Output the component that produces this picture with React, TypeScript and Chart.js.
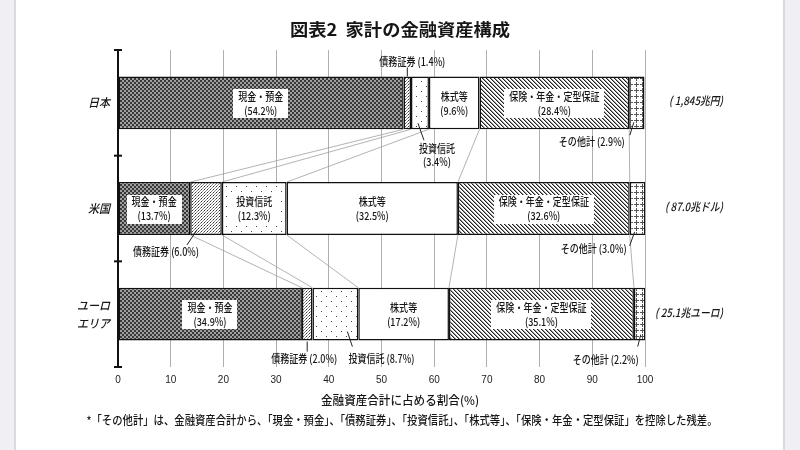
import React, { useEffect, useRef } from "react";
import { Chart, registerables } from "chart.js";

Chart.register(...registerables);

// ---------------- data ----------------
const categories = ["日本", "米国", "ユーロエリア"];
const categoryLines = [["日本"], ["米国"], ["ユーロ", "エリア"]];
const seriesNames = ["現金・預金", "債務証券", "投資信託", "株式等", "保険・年金・定型保証", "その他計"];
const cashDeposits = [54.2, 13.7, 34.9];
const debtSecurities = [1.4, 6.0, 2.0];
const investmentTrusts = [3.4, 12.3, 8.7];
const equities = [9.6, 32.5, 17.2];
const insurancePension = [28.4, 32.6, 35.1];
const otherTotal = [2.9, 3.0, 2.2];
const totalAssets = ["( 1,845兆円)", "( 87.0兆ドル)", "( 25.1兆ユーロ)"];
const xTickValues = [0, 10, 20, 30, 40, 50, 60, 70, 80, 90, 100];

const titleText = "図表2  家計の金融資産構成";
const xAxisTitle = "金融資産合計に占める割合(%)";
const footnote =
  "*「その他計」は、金融資産合計から、「現金・預金」、「債務証券」、「投資信託」、「株式等」、「保険・年金・定型保証」を控除した残差。";

// which segments carry their label inside the bar [dataset][category]
const insideLabel = [
  [true, true, true],
  [false, false, false],
  [false, true, false],
  [true, true, true],
  [true, true, true],
  [false, false, false],
];
// which inside labels get a white backing box
const boxedLabel = [
  [true, true, true],
  [false, false, false],
  [false, true, false],
  [false, false, false],
  [true, true, true],
  [false, false, false],
];

// outside labels: placement offsets relative to segment centre and bar edge
type Outside = {
  ds: number;
  cat: number;
  edge: "top" | "bottom";
  twoLine: boolean;
  dx: number;
  dy: number;
  l: [number, number, number, number];
};
const outsideLabels: Outside[] = [
  { ds: 1, cat: 0, edge: "top", twoLine: false, dx: 5, dy: -15, l: [0, -9, 0, 0] },
  { ds: 2, cat: 0, edge: "bottom", twoLine: true, dx: 17, dy: 33, l: [-2, -6, 4, 11] },
  { ds: 5, cat: 0, edge: "bottom", twoLine: false, dx: -45, dy: 13, l: [-3, -7, -7, 6] },
  { ds: 1, cat: 1, edge: "bottom", twoLine: false, dx: -40, dy: 17, l: [-9, -5, -19, 10] },
  { ds: 5, cat: 1, edge: "bottom", twoLine: false, dx: -44, dy: 14, l: [-3, -3, -8, 11] },
  { ds: 1, cat: 2, edge: "bottom", twoLine: false, dx: -3, dy: 18, l: [0, 1, 0, 11] },
  { ds: 2, cat: 2, edge: "bottom", twoLine: false, dx: 46, dy: 18, l: [12, -9, 17, 6] },
  { ds: 5, cat: 2, edge: "bottom", twoLine: false, dx: -34, dy: 19, l: [1, -6, -2, 6] },
];

const seriesData = [cashDeposits, debtSecurities, investmentTrusts, equities, insurancePension, otherTotal];

// ---------------- patterns ----------------
function makeTile(w: number, h: number, draw: (c: CanvasRenderingContext2D) => void): CanvasPattern | string {
  const c = document.createElement("canvas");
  c.width = w;
  c.height = h;
  const ctx = c.getContext("2d");
  if (!ctx) return "#999";
  draw(ctx);
  return ctx.createPattern(c, "repeat") || "#999";
}

function buildPatterns() {
  const checker = makeTile(4, 4, (c) => {
    c.fillStyle = "#a0a0a0";
    c.fillRect(0, 0, 4, 4);
    c.fillStyle = "#383838";
    c.fillRect(0, 0, 2, 2);
    c.fillRect(2, 2, 2, 2);
  });
  const denseDots = makeTile(3, 3, (c) => {
    c.fillStyle = "#ffffff";
    c.fillRect(0, 0, 3, 3);
    c.fillStyle = "#333";
    c.fillRect(0, 0, 1, 1);
    c.fillStyle = "#888";
    c.fillRect(1, 2, 1, 1);
    c.fillRect(2, 1, 1, 1);
  });
  const sparseDots = makeTile(10, 10, (c) => {
    c.fillStyle = "#ffffff";
    c.fillRect(0, 0, 10, 10);
    c.fillStyle = "#444";
    c.fillRect(1, 1, 1, 1);
    c.fillRect(6, 6, 1, 1);
  });
  const hatch = makeTile(4, 4, (c) => {
    c.fillStyle = "#ffffff";
    c.fillRect(0, 0, 4, 4);
    c.fillStyle = "#222";
    for (let i = 0; i < 4; i++) c.fillRect(i, i, 1, 1);
    c.fillStyle = "#999";
    for (let i = 0; i < 4; i++) c.fillRect((i + 1) % 4, i, 1, 1);
  });
  const grid = makeTile(6, 6, (c) => {
    c.fillStyle = "#ffffff";
    c.fillRect(0, 0, 6, 6);
    c.fillStyle = "#555";
    c.fillRect(0, 0, 6, 1);
    c.fillRect(0, 0, 1, 6);
    c.fillStyle = "#ffffff";
    c.fillRect(3, 0, 1, 1);
    c.fillRect(0, 3, 1, 1);
  });
  return [checker, denseDots, sparseDots, "#ffffff", hatch, grid];
}

// ---------------- text helpers ----------------
const JP = '"Noto Sans CJK JP", "Noto Sans", sans-serif';
const SX = 0.82;

function drawText(
  ctx: CanvasRenderingContext2D,
  s: string,
  x: number,
  y: number,
  font: string,
  align: CanvasTextAlign = "center",
  sx: number = SX,
  color = "#161616"
) {
  ctx.save();
  ctx.font = font;
  ctx.fillStyle = color;
  ctx.textAlign = align;
  ctx.textBaseline = "middle";
  ctx.translate(x, y);
  ctx.scale(sx, 1);
  ctx.fillText(s, 0, 0);
  ctx.restore();
}
function textWidth(ctx: CanvasRenderingContext2D, s: string, font: string, sx: number = SX) {
  ctx.save();
  ctx.font = font;
  const w = ctx.measureText(s).width * sx;
  ctx.restore();
  return w;
}
function fitText(ctx: CanvasRenderingContext2D, s: string, x: number, y: number, font: string, width: number) {
  const w = textWidth(ctx, s, font, 1);
  drawText(ctx, s, x, y, font, "center", width / w);
}

function pct(v: number) {
  return "(" + v.toFixed(1) + "%)";
}

// ---------------- plugin ----------------
function segInfo(chart: any, ds: number, cat: number) {
  const xs = chart.scales.x;
  let start = 0;
  for (let d = 0; d < ds; d++) start += seriesData[d][cat];
  const end = start + seriesData[ds][cat];
  const el = chart.getDatasetMeta(ds).data[cat] as any;
  const p = el.getProps(["y", "height"], true);
  return {
    x0: xs.getPixelForValue(start),
    x1: xs.getPixelForValue(end),
    cx: xs.getPixelForValue((start + end) / 2),
    cy: p.y,
    top: p.y - p.height / 2,
    bottom: p.y + p.height / 2,
  };
}

const decorPlugin = {
  id: "decor",
  beforeDatasetsDraw(chart: any) {
    const ctx: CanvasRenderingContext2D = chart.ctx;
    const xs = chart.scales.x;
    ctx.save();
    ctx.strokeStyle = "#a0a0a0";
    ctx.lineWidth = 0.8;
    for (let c = 0; c < categories.length - 1; c++) {
      let a = 0;
      let b = 0;
      for (let d = 0; d < seriesData.length - 1; d++) {
        a += seriesData[d][c];
        b += seriesData[d][c + 1];
        const sa = segInfo(chart, d, c);
        const sb = segInfo(chart, d, c + 1);
        ctx.beginPath();
        ctx.moveTo(xs.getPixelForValue(a), sa.bottom);
        ctx.lineTo(xs.getPixelForValue(b), sb.top);
        ctx.stroke();
      }
    }
    ctx.restore();
  },
  afterDatasetsDraw(chart: any) {
    const ctx: CanvasRenderingContext2D = chart.ctx;
    const area = chart.chartArea;
    const ys = chart.scales.y;
    const f11 = "500 11px " + JP;

    // y axis line and boundary ticks
    ctx.save();
    ctx.strokeStyle = "#111";
    ctx.lineWidth = 2;
    ctx.beginPath();
    ctx.moveTo(area.left, area.top);
    ctx.lineTo(area.left, area.bottom);
    ctx.stroke();
    const band = ys.getPixelForValue(1) - ys.getPixelForValue(0);
    const ticksY = [area.top];
    for (let i = 0; i < categories.length; i++) ticksY.push(ys.getPixelForValue(i) + band / 2);
    ticksY.forEach((ty) => {
      ctx.beginPath();
      ctx.moveTo(area.left - 4, ty);
      ctx.lineTo(area.left + 4, ty);
      ctx.stroke();
    });
    ctx.restore();

    // inside labels
    for (let d = 0; d < seriesData.length; d++) {
      for (let c = 0; c < categories.length; c++) {
        if (!insideLabel[d][c]) continue;
        const s = segInfo(chart, d, c);
        const l1 = seriesNames[d];
        const l2 = pct(seriesData[d][c]);
        if (boxedLabel[d][c]) {
          const w = Math.max(textWidth(ctx, l1, f11), textWidth(ctx, l2, f11)) + 10;
          ctx.fillStyle = "#ffffff";
          ctx.fillRect(Math.round(s.cx - w / 2), Math.round(s.cy - 14), Math.round(w), 29);
        }
        drawText(ctx, l1, s.cx, s.cy - 6.5, f11);
        drawText(ctx, l2, s.cx, s.cy + 7.5, f11);
      }
    }

    // outside labels with leader lines
    outsideLabels.forEach((o) => {
      const s = segInfo(chart, o.ds, o.cat);
      const ey = o.edge === "top" ? s.top : s.bottom;
      const name = seriesNames[o.ds];
      const p = pct(seriesData[o.ds][o.cat]);
      if (o.twoLine) {
        drawText(ctx, name, s.cx + o.dx, ey + o.dy - 13, f11);
        drawText(ctx, p, s.cx + o.dx, ey + o.dy, f11);
      } else {
        drawText(ctx, name + " " + p, s.cx + o.dx, ey + o.dy, f11);
      }
      ctx.save();
      ctx.strokeStyle = "#222";
      ctx.lineWidth = 1;
      ctx.beginPath();
      ctx.moveTo(s.cx + o.l[0], ey + o.l[1]);
      ctx.lineTo(s.cx + o.l[2], ey + o.l[3]);
      ctx.stroke();
      ctx.restore();
    });

    // category labels and totals
    const fi = "italic 500 12px " + JP;
    for (let c = 0; c < categories.length; c++) {
      const cy = ys.getPixelForValue(c);
      const lines = categoryLines[c];
      lines.forEach((ln, i) => {
        const y = cy + (i - (lines.length - 1) / 2) * 18;
        drawText(ctx, ln, area.left - 8, y, fi, "right", 0.92);
      });
      drawText(ctx, totalAssets[c], area.right + 78, cy - 2, "italic 500 11.5px " + JP, "right", 0.85);
    }

    // title, axis title, footnote
    const W = chart.width;
    fitText(ctx, titleText, W / 2, 30, "bold 17px " + JP, 220);
    fitText(ctx, xAxisTitle, W / 2, 400, "500 12px " + JP, 158);
    fitText(ctx, footnote, W / 2 + 2, 420, "500 12px " + JP, 631);
  },
};

// ---------------- component ----------------
export default function App() {
  const ref = useRef<HTMLCanvasElement | null>(null);
  useEffect(() => {
    if (!ref.current) return;
    const patterns = buildPatterns();
    const chart = new Chart(ref.current, {
      type: "bar",
      data: {
        labels: categories,
        datasets: seriesNames.map((n, i) => ({
          label: n,
          data: seriesData[i],
          backgroundColor: patterns[i] as any,
          borderColor: "#111",
          borderWidth: 1.5,
          borderSkipped: false,
          categoryPercentage: 0.5,
          barPercentage: 1,
        })),
      },
      options: {
        indexAxis: "y",
        animation: false,
        responsive: false,
        maintainAspectRatio: false,
        layout: { padding: { left: 118, right: 155, top: 50, bottom: 57 } },
        plugins: {
          legend: { display: false },
          tooltip: { enabled: false },
          title: { display: false },
        },
        scales: {
          x: {
            stacked: true,
            min: 0,
            max: 100,
            afterBuildTicks: (scale: any) => {
              scale.ticks = xTickValues.map((v) => ({ value: v }));
            },
            ticks: {
              color: "#222",
              padding: 7,
              font: { family: "Liberation Sans", size: 10 },
            },
            grid: { color: "#b0b0b0", lineWidth: 1, drawTicks: false },
            border: { display: false },
          },
          y: { stacked: true, display: false },
        },
      },
      plugins: [decorPlugin],
    } as any);
    return () => chart.destroy();
  }, []);
  return (
    <div
      style={{
        position: "fixed",
        left: 0,
        top: 0,
        width: 800,
        height: 450,
        background:
          "linear-gradient(to right, #efeff4 0px, #efeff4 14px, #dadade 14px, #dadade 16px, #ffffff 16px, #ffffff 783px, #dadade 783px, #dadade 785px, #efeff4 785px, #efeff4 800px)",
      }}
    >
      <canvas ref={ref} width={800} height={450} style={{ display: "block", width: 800, height: 450 }} />
    </div>
  );
}
